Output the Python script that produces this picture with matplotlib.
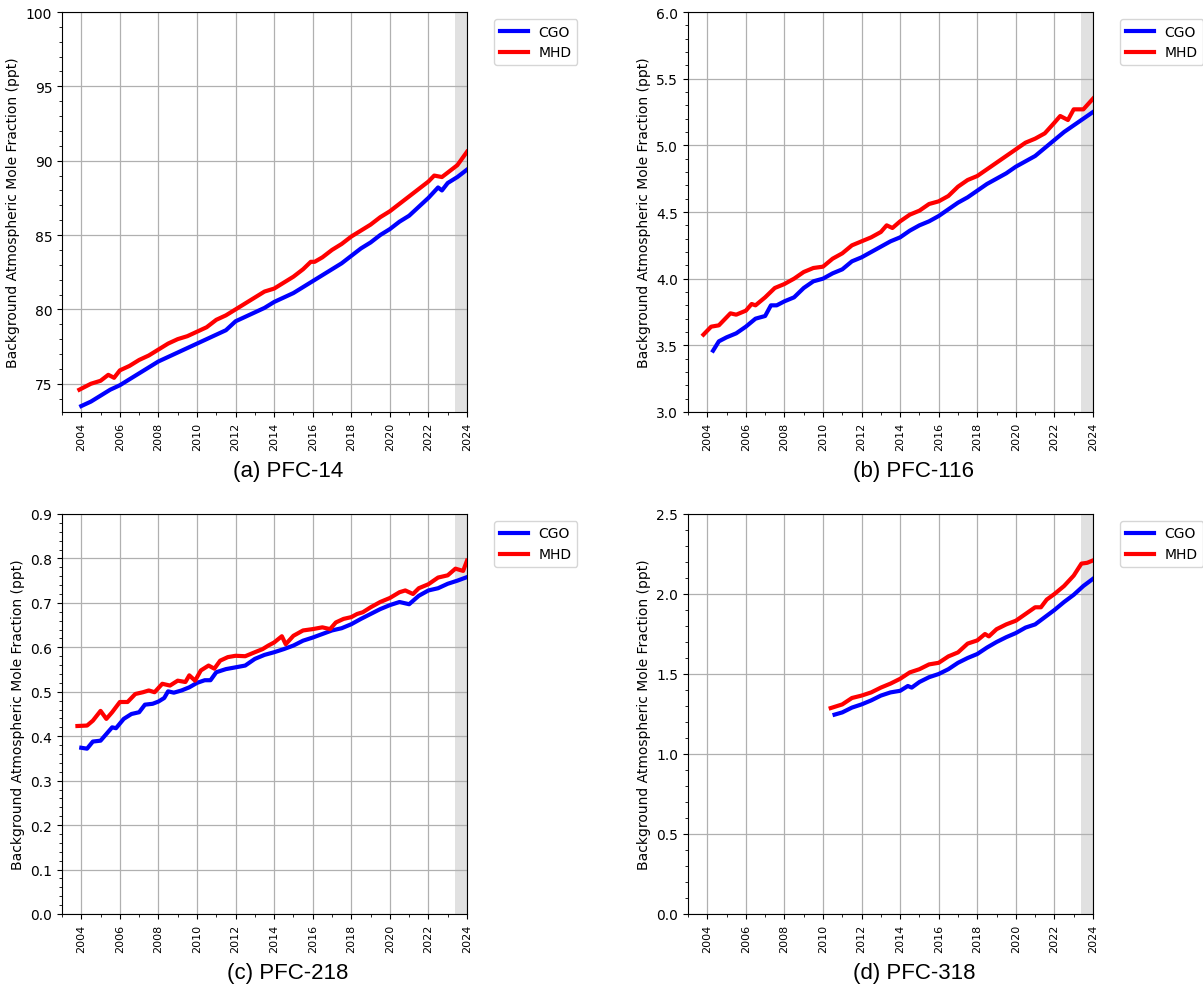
import matplotlib
matplotlib.use("Agg")
import matplotlib.pyplot as plt
from matplotlib.ticker import MultipleLocator

# PFC-14
pfc14_cgo_t = [2004.0, 2004.5, 2005.0, 2005.5, 2006.0, 2006.5, 2007.0, 2007.5, 2008.0, 2008.5,
               2009.0, 2009.5, 2010.0, 2010.5, 2011.0, 2011.5, 2012.0, 2012.5, 2013.0, 2013.5,
               2014.0, 2014.5, 2015.0, 2015.5, 2016.0, 2016.5, 2017.0, 2017.5, 2018.0, 2018.5,
               2019.0, 2019.5, 2020.0, 2020.5, 2021.0, 2021.5, 2022.0, 2022.5, 2022.7, 2023.0,
               2023.5, 2024.0]
pfc14_cgo = [73.5, 73.8, 74.2, 74.6, 74.9, 75.3, 75.7, 76.1, 76.5, 76.8,
             77.1, 77.4, 77.7, 78.0, 78.3, 78.6, 79.2, 79.5, 79.8, 80.1,
             80.5, 80.8, 81.1, 81.5, 81.9, 82.3, 82.7, 83.1, 83.6, 84.1,
             84.5, 85.0, 85.4, 85.9, 86.3, 86.9, 87.5, 88.2, 88.0, 88.5,
             88.9, 89.4]
pfc14_mhd_t = [2003.9, 2004.5, 2005.0, 2005.4, 2005.7, 2006.0, 2006.5, 2007.0, 2007.5, 2008.0,
               2008.5, 2009.0, 2009.5, 2010.0, 2010.5, 2011.0, 2011.5, 2012.0, 2012.5, 2013.0,
               2013.5, 2014.0, 2014.5, 2015.0, 2015.5, 2015.9, 2016.1, 2016.5, 2017.0, 2017.5,
               2018.0, 2018.5, 2019.0, 2019.5, 2020.0, 2020.5, 2021.0, 2021.5, 2022.0, 2022.3,
               2022.7, 2023.0, 2023.5, 2024.0]
pfc14_mhd = [74.6, 75.0, 75.2, 75.6, 75.4, 75.9, 76.2, 76.6, 76.9, 77.3,
             77.7, 78.0, 78.2, 78.5, 78.8, 79.3, 79.6, 80.0, 80.4, 80.8,
             81.2, 81.4, 81.8, 82.2, 82.7, 83.2, 83.2, 83.5, 84.0, 84.4,
             84.9, 85.3, 85.7, 86.2, 86.6, 87.1, 87.6, 88.1, 88.6, 89.0,
             88.9, 89.2, 89.7, 90.6]

# PFC-116
pfc116_cgo_t = [2004.3, 2004.6, 2005.0, 2005.5, 2006.0, 2006.5, 2007.0, 2007.3, 2007.6, 2008.0,
                2008.5, 2009.0, 2009.5, 2010.0, 2010.5, 2011.0, 2011.5, 2012.0, 2012.5, 2013.0,
                2013.5, 2014.0, 2014.5, 2015.0, 2015.5, 2016.0, 2016.5, 2017.0, 2017.5, 2018.0,
                2018.5, 2019.0, 2019.5, 2020.0, 2020.5, 2021.0, 2021.5, 2022.0, 2022.5, 2023.0,
                2023.5, 2024.0]
pfc116_cgo = [3.46, 3.53, 3.56, 3.59, 3.64, 3.70, 3.72, 3.80, 3.80, 3.83,
              3.86, 3.93, 3.98, 4.00, 4.04, 4.07, 4.13, 4.16, 4.20, 4.24,
              4.28, 4.31, 4.36, 4.40, 4.43, 4.47, 4.52, 4.57, 4.61, 4.66,
              4.71, 4.75, 4.79, 4.84, 4.88, 4.92, 4.98, 5.04, 5.10, 5.15,
              5.20, 5.25]
pfc116_mhd_t = [2003.8, 2004.2, 2004.6, 2004.8, 2005.2, 2005.5, 2006.0, 2006.3, 2006.5, 2007.0,
                2007.5, 2008.0, 2008.5, 2009.0, 2009.5, 2010.0, 2010.5, 2011.0, 2011.5, 2012.0,
                2012.5, 2013.0, 2013.3, 2013.6, 2014.0, 2014.5, 2015.0, 2015.5, 2016.0, 2016.5,
                2017.0, 2017.5, 2018.0, 2018.5, 2019.0, 2019.5, 2020.0, 2020.5, 2021.0, 2021.5,
                2022.0, 2022.3, 2022.7, 2023.0, 2023.5, 2024.0]
pfc116_mhd = [3.58, 3.64, 3.65, 3.68, 3.74, 3.73, 3.76, 3.81, 3.80, 3.86,
              3.93, 3.96, 4.00, 4.05, 4.08, 4.09, 4.15, 4.19, 4.25, 4.28,
              4.31, 4.35, 4.40, 4.38, 4.43, 4.48, 4.51, 4.56, 4.58, 4.62,
              4.69, 4.74, 4.77, 4.82, 4.87, 4.92, 4.97, 5.02, 5.05, 5.09,
              5.17, 5.22, 5.19, 5.27, 5.27, 5.35]

# PFC-218
pfc218_cgo_t = [2004.0, 2004.3, 2004.6, 2005.0, 2005.3, 2005.6, 2005.8, 2006.2, 2006.6, 2007.0,
                2007.3, 2007.7, 2008.0, 2008.3, 2008.5, 2008.8, 2009.2, 2009.6, 2010.0, 2010.4,
                2010.7, 2011.0, 2011.5, 2012.0, 2012.5, 2013.0, 2013.5, 2014.0, 2014.5, 2015.0,
                2015.5, 2016.0, 2016.5, 2017.0, 2017.5, 2018.0, 2018.5, 2019.0, 2019.5, 2020.0,
                2020.5, 2021.0, 2021.5, 2022.0, 2022.5, 2023.0, 2023.5, 2024.0]
pfc218_cgo = [0.374, 0.372, 0.388, 0.390, 0.405, 0.420, 0.418, 0.439, 0.450, 0.454,
              0.471, 0.473, 0.478, 0.486, 0.501, 0.498, 0.503, 0.510, 0.520, 0.526,
              0.526, 0.544, 0.551, 0.555, 0.559, 0.574, 0.583, 0.589, 0.596, 0.604,
              0.615, 0.622, 0.630, 0.638, 0.643, 0.652, 0.664, 0.675, 0.686, 0.695,
              0.702, 0.697, 0.716, 0.728, 0.733, 0.743, 0.750, 0.758]
pfc218_mhd_t = [2003.8, 2004.3, 2004.6, 2005.0, 2005.3, 2005.6, 2006.0, 2006.4, 2006.8, 2007.2,
                2007.5, 2007.8, 2008.2, 2008.6, 2009.0, 2009.4, 2009.6, 2009.9, 2010.2, 2010.6,
                2010.9, 2011.2, 2011.6, 2012.0, 2012.5, 2013.0, 2013.4, 2013.7, 2014.0, 2014.4,
                2014.6, 2015.0, 2015.5, 2016.0, 2016.5, 2016.9, 2017.2, 2017.6, 2018.0, 2018.3,
                2018.6, 2019.0, 2019.5, 2020.0, 2020.5, 2020.8, 2021.2, 2021.5, 2022.0, 2022.5,
                2023.0, 2023.4, 2023.8, 2024.0]
pfc218_mhd = [0.423, 0.424, 0.435, 0.457, 0.439, 0.454, 0.477, 0.477, 0.495, 0.499,
              0.503, 0.499, 0.518, 0.514, 0.525, 0.522, 0.537, 0.525, 0.548, 0.559,
              0.552, 0.570, 0.578, 0.581, 0.580, 0.589, 0.596, 0.604, 0.611, 0.625,
              0.607, 0.626, 0.638, 0.641, 0.645, 0.641, 0.656, 0.664, 0.668, 0.675,
              0.679, 0.690, 0.702, 0.711, 0.724, 0.728, 0.720, 0.733, 0.742, 0.757,
              0.762, 0.777, 0.772, 0.795]

# PFC-318
pfc318_cgo_t = [2010.6, 2011.0, 2011.5, 2012.0, 2012.5, 2013.0, 2013.5, 2014.0, 2014.4, 2014.6,
                2015.0, 2015.5, 2016.0, 2016.5, 2017.0, 2017.5, 2018.0, 2018.5, 2019.0, 2019.5,
                2020.0, 2020.5, 2021.0, 2021.5, 2022.0, 2022.5, 2023.0, 2023.5, 2024.0]
pfc318_cgo = [1.246, 1.26, 1.29, 1.31, 1.335, 1.365, 1.385, 1.395, 1.425, 1.415,
              1.45, 1.48, 1.50, 1.53, 1.57, 1.60, 1.625, 1.665, 1.70, 1.73,
              1.756, 1.79, 1.81, 1.855, 1.90, 1.95, 1.995, 2.05, 2.095]
pfc318_mhd_t = [2010.4, 2011.0, 2011.5, 2012.0, 2012.5, 2013.0, 2013.5, 2014.0, 2014.5, 2015.0,
                2015.5, 2016.0, 2016.5, 2017.0, 2017.5, 2018.0, 2018.4, 2018.6, 2019.0, 2019.5,
                2020.0, 2020.5, 2021.0, 2021.3, 2021.6, 2022.0, 2022.5, 2023.0, 2023.4, 2023.7,
                2024.0]
pfc318_mhd = [1.287, 1.31, 1.35, 1.365, 1.385, 1.415, 1.44, 1.47, 1.51, 1.53,
              1.56, 1.57, 1.61, 1.635, 1.69, 1.71, 1.75, 1.735, 1.78, 1.81,
              1.833, 1.875, 1.917, 1.917, 1.965, 2.0, 2.05, 2.115, 2.19, 2.195,
              2.21]

titles = ["(a) PFC-14", "(b) PFC-116", "(c) PFC-218", "(d) PFC-318"]
ylims = [(73.1, 100), (3.0, 6.0), (0.0, 0.9), (0.0, 2.5)]
ymajor = [5, 0.5, 0.1, 0.5]
yminor = [1, 0.1, 0.02, 0.1]

panels = [
    (pfc14_cgo_t, pfc14_cgo, pfc14_mhd_t, pfc14_mhd),
    (pfc116_cgo_t, pfc116_cgo, pfc116_mhd_t, pfc116_mhd),
    (pfc218_cgo_t, pfc218_cgo, pfc218_mhd_t, pfc218_mhd),
    (pfc318_cgo_t, pfc318_cgo, pfc318_mhd_t, pfc318_mhd),
]

fig = plt.figure(figsize=(12.03, 9.87), dpi=100)
W, H = 1203, 987
boxes = [(62, 13), (688, 13), (62, 515), (688, 515)]

for i, (ct, cv, mt, mv) in enumerate(panels):
    x0, y0 = boxes[i]
    ax = fig.add_axes([x0 / W, 1 - (y0 + 400) / H, 405 / W, 400 / H])
    ax.axvspan(2023.4, 2024, color="#e1e1e1", zorder=0, lw=0)
    ax.plot(ct, cv, color="blue", lw=3, label="CGO", zorder=3)
    ax.plot(mt, mv, color="red", lw=3, label="MHD", zorder=3)
    ax.set_xlim(2003, 2024)
    ax.set_ylim(*ylims[i])
    ax.set_xticks(range(2004, 2025, 2))
    ax.xaxis.set_minor_locator(MultipleLocator(1))
    ax.yaxis.set_major_locator(MultipleLocator(ymajor[i]))
    ax.yaxis.set_minor_locator(MultipleLocator(yminor[i]))
    ax.tick_params(axis="x", which="major", labelsize=8, labelrotation=90)
    ax.tick_params(axis="y", labelsize=10)
    ax.grid(True, color="#b0b0b0", lw=0.9, zorder=1)
    ax.set_axisbelow(True)
    ax.set_ylabel("Background Atmospheric Mole Fraction (ppt)", fontsize=10)
    ax.set_xlabel(titles[i], fontsize=16, family="Liberation Sans")
    ax.xaxis.set_label_coords(0.558, -0.12)
    ax.legend(loc="upper left", bbox_to_anchor=(1.05, 1), fontsize=10)

fig.savefig("out.png", dpi=100)
